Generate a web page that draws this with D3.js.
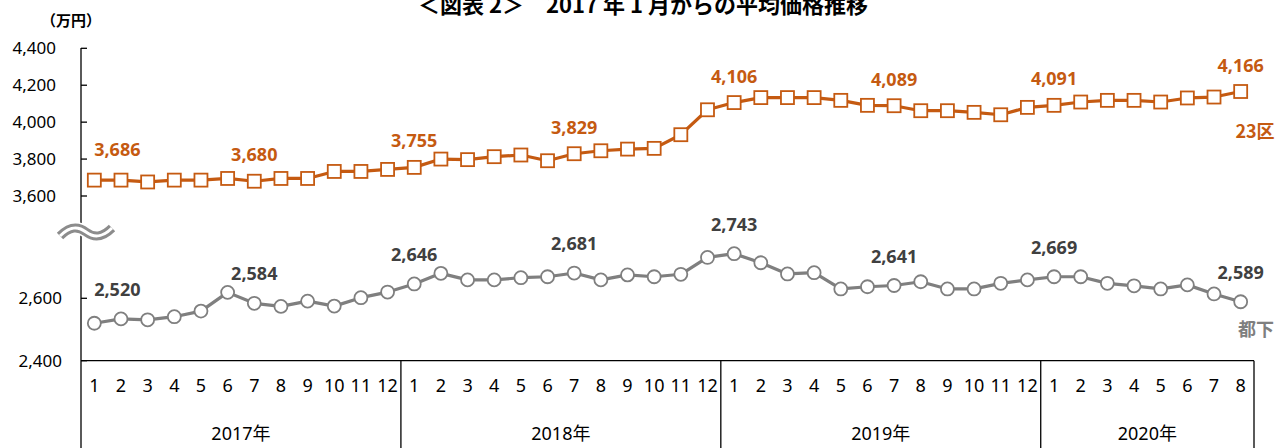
<!DOCTYPE html>
<html>
<head>
<meta charset="utf-8">
<script src="https://cdn.jsdelivr.net/npm/d3@7"></script>
<style>
  body { margin: 0; background: #fff; }
  svg text { font-family: "Noto Sans", "Noto Sans CJK JP", sans-serif; }
</style>
</head>
<body>
<div id="chart"></div>
<script>
// months on the x axis, grouped by year
var months = [1,2,3,4,5,6,7,8,9,10,11,12, 1,2,3,4,5,6,7,8,9,10,11,12,
              1,2,3,4,5,6,7,8,9,10,11,12, 1,2,3,4,5,6,7,8];
var years = ["2017年", "2018年", "2019年", "2020年"];
var yearCounts = [12, 12, 12, 8];

// average price, 万円
var ward23 = [3686,3686,3676,3686,3686,3695,3680,3695,3695,3733,3733,3744,
              3755,3800,3797,3813,3822,3791,3829,3845,3854,3858,3932,4067,
              4106,4133,4133,4133,4118,4091,4089,4062,4062,4053,4040,4080,
              4091,4109,4118,4118,4109,4131,4136,4166];
var tokyoOuter = [2520,2534,2531,2541,2559,2619,2584,2574,2591,2575,2602,2620,
                  2646,2680,2659,2659,2666,2669,2681,2659,2675,2669,2677,2731,
                  2743,2714,2678,2682,2630,2637,2641,2653,2630,2630,2648,2659,
                  2669,2669,2648,2640,2630,2643,2614,2589];
// points that carry a value label
var labelIdx = [0, 6, 12, 18, 24, 30, 36, 43];

var upperTicks = [3600, 3800, 4000, 4200, 4400];
var lowerTicks = [2400, 2600];

var orange = "#C55A11";
var grey = "#7F7F7F";

var W = 1288, H = 448;
var svg = d3.select("#chart").append("svg").attr("width", W).attr("height", H);

var x = d3.scaleBand().domain(d3.range(months.length)).range([81, 1254]);
var cx = function(i) { return x(i) + x.bandwidth() / 2; };

// broken y axis: two linear scales with different spacing
var yUp = d3.scaleLinear().domain([3600, 4400]).range([196, 48.3]);
var yLo = d3.scaleLinear().domain([2400, 2600]).range([360.7, 298.3]);

// title (partly cut off at the top, like the source)
svg.append("text")
   .attr("x", 643).attr("y", 13)
   .attr("text-anchor", "middle")
   .attr("font-size", 22).attr("font-weight", "bold")
   .style("font-family", "'Noto Sans CJK JP', sans-serif")
   .text("＜図表 2＞　2017 年 1 月からの平均価格推移");

svg.append("text")
   .attr("x", 71).attr("y", 26)
   .attr("text-anchor", "middle")
   .attr("font-size", 15).attr("font-weight", "bold")
   .style("font-family", "'Noto Sans CJK JP', sans-serif")
   .text("（万円）");

// y axis line
svg.append("line")
   .attr("x1", 81).attr("x2", 81).attr("y1", 48).attr("y2", H)
   .attr("stroke", "#000").attr("stroke-width", 1.3);

function yTicks(scale, ticks, labelX) {
    var g = svg.append("g");
    g.selectAll("line").data(ticks).enter().append("line")
     .attr("x1", 81).attr("x2", 87)
     .attr("y1", d => scale(d)).attr("y2", d => scale(d))
     .attr("stroke", "#000").attr("stroke-width", 1.3);
    g.selectAll("text").data(ticks).enter().append("text")
     .attr("x", labelX).attr("y", d => scale(d) + 6)
     .attr("text-anchor", "end")
     .attr("font-size", 17)
     .text(d => d3.format(",")(d));
}
yTicks(yUp, upperTicks, 56);
yTicks(yLo, lowerTicks, 62);

// axis break mark
var wave = "M60,236 C70,226 78,226 86,232 C94,238 102,238 112,228";
svg.append("path").attr("d", wave).attr("fill", "none")
   .attr("stroke", "#fff").attr("stroke-width", 12);
svg.append("path").attr("d", wave).attr("fill", "none")
   .attr("stroke", "#8c8c8c").attr("stroke-width", 9);
svg.append("path").attr("d", wave).attr("fill", "none")
   .attr("stroke", "#fff").attr("stroke-width", 3);

// x axis: month row and year row
var xAxisY = yLo(2400);
svg.append("line")
   .attr("x1", 81).attr("x2", 1254).attr("y1", xAxisY).attr("y2", xAxisY)
   .attr("stroke", "#000").attr("stroke-width", 1.3);

var monthAxis = d3.axisBottom(x).tickSize(0).tickPadding(0)
                  .tickFormat(i => months[i]);
var mg = svg.append("g")
            .attr("transform", `translate(0, ${xAxisY + 19})`)
            .call(monthAxis);
mg.select(".domain").remove();
mg.selectAll("text").attr("font-size", 18).attr("fill", "#000")
  .style("font-family", "'Noto Sans', sans-serif");

var start = 0;
years.forEach(function(yr, k) {
    var x0 = x(start);
    var x1 = x(start + yearCounts[k] - 1) + x.bandwidth();
    svg.append("line")
       .attr("x1", x1).attr("x2", x1).attr("y1", xAxisY).attr("y2", H)
       .attr("stroke", "#000").attr("stroke-width", 1.3);
    svg.append("text")
       .attr("x", (x0 + x1) / 2).attr("y", 440)
       .attr("text-anchor", "middle")
       .attr("font-size", 18)
       .text(yr);
    start += yearCounts[k];
});

// series lines
function drawSeries(data, scale, color, marker, labelColor, labelUp) {
    var line = d3.line().x((d, i) => cx(i)).y(d => scale(d));
    svg.append("path").datum(data)
       .attr("d", line).attr("fill", "none")
       .attr("stroke", color).attr("stroke-width", 3.2)
       .attr("stroke-linejoin", "round");

    if (marker === "square") {
        svg.append("g").selectAll("rect").data(data).enter().append("rect")
           .attr("x", (d, i) => cx(i) - 6.5).attr("y", d => scale(d) - 6.5)
           .attr("width", 13).attr("height", 13)
           .attr("fill", "#fff").attr("stroke", color).attr("stroke-width", 1.8);
    } else {
        svg.append("g").selectAll("circle").data(data).enter().append("circle")
           .attr("cx", (d, i) => cx(i)).attr("cy", d => scale(d)).attr("r", 6.5)
           .attr("fill", "#fff").attr("stroke", color).attr("stroke-width", 1.8);
    }

    svg.append("g").selectAll("text").data(labelIdx).enter().append("text")
       .attr("x", i => cx(i) + (i === 0 ? 23 : 0))
       .attr("y", i => scale(data[i]) - (i === 0 ? labelUp + 4 : labelUp))
       .attr("text-anchor", "middle")
       .attr("font-size", 18).attr("font-weight", "bold")
       .attr("fill", labelColor)
       .text(i => d3.format(",")(data[i]));
}
drawSeries(ward23, yUp, orange, "square", orange, 20);
drawSeries(tokyoOuter, yLo, grey, "circle", "#404040", 23);

// series names
svg.append("text").attr("x", 1255).attr("y", 138)
   .attr("text-anchor", "middle").attr("font-size", 18).attr("font-weight", "bold")
   .attr("fill", orange)
   .style("font-family", "'Noto Sans CJK JP', sans-serif")
   .text("23区");
svg.append("text").attr("x", 1256).attr("y", 336)
   .attr("text-anchor", "middle").attr("font-size", 18).attr("font-weight", "bold")
   .attr("fill", grey)
   .style("font-family", "'Noto Sans CJK JP', sans-serif")
   .text("都下");
</script>
</body>
</html>
